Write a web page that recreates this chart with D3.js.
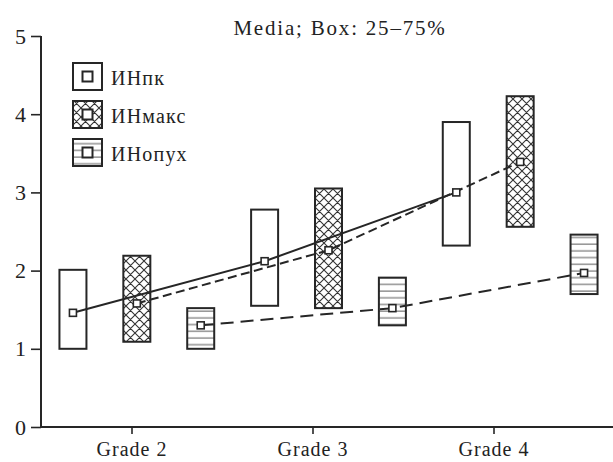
<!DOCTYPE html>
<html>
<head>
<meta charset="utf-8">
<script src="https://cdn.jsdelivr.net/npm/d3@7"></script>
<style>
  html, body { margin: 0; padding: 0; background: #fff; }
  svg { display: block; }
</style>
</head>
<body>
<svg id="chart" width="613" height="462"></svg>
<script>
// Grades shown on the x axis
const grades = ["Grade 2", "Grade 3", "Grade 4"];
const gradeTicks = [2, 3, 4];
// Series names (legend)
const series = ["ИНпк", "ИНмакс", "ИНопух"];
// Median values per series, by grade
const medianPk   = [1.46, 2.12, 3.00];
const medianMaks = [1.58, 2.26, 3.39];
const medianOpuh = [1.30, 1.52, 1.97];
// 25% quartile per series, by grade
const q25Pk   = [1.00, 1.55, 2.32];
const q25Maks = [1.09, 1.52, 2.56];
const q25Opuh = [1.00, 1.30, 1.70];
// 75% quartile per series, by grade
const q75Pk   = [2.01, 2.78, 3.90];
const q75Maks = [2.19, 3.05, 4.23];
const q75Opuh = [1.52, 1.91, 2.46];
const yTicks = [0, 1, 2, 3, 4, 5];
const title = "Media; Box: 25–75%";

const medians = [medianPk, medianMaks, medianOpuh];
const q25s = [q25Pk, q25Maks, q25Opuh];
const q75s = [q75Pk, q75Maks, q75Opuh];

const FONT = "'Liberation Serif', 'DejaVu Serif', 'Liberation Sans', sans-serif";

const svg = d3.select("#chart");
const plotLeft = 41, plotRight = 616, plotTop = 36, plotBottom = 427;

const y = d3.scaleLinear().domain([0, 5]).range([plotBottom, plotTop]);
// Axis ticks for grades
const xTick = d3.scaleLinear().domain([1.5, 1.5 + (plotRight - plotLeft) / 181]).range([plotLeft, plotRight]);
// Box slots: each grade holds three boxes side by side
const slots = d3.range(grades.length * series.length);
const xBox = d3.scalePoint().domain(slots).range([plotLeft, plotRight]).padding(0.5);
const slotOf = (g, s) => g * series.length + s;

const boxW = 27;
const ink = "#262626";

// Fill patterns
const defs = svg.append("defs");
const cross = defs.append("pattern")
  .attr("id", "cross").attr("patternUnits", "userSpaceOnUse")
  .attr("width", 9).attr("height", 9);
cross.append("rect").attr("width", 9).attr("height", 9).attr("fill", "#fff");
cross.append("path").attr("d", "M0,0L9,9M9,0L0,9M-4.5,4.5L4.5,-4.5M4.5,13.5L13.5,4.5M-4.5,4.5L4.5,13.5M4.5,-4.5L13.5,4.5")
  .attr("stroke", "#333").attr("stroke-width", 1.1);

const hor = defs.append("pattern")
  .attr("id", "hor").attr("patternUnits", "userSpaceOnUse")
  .attr("width", 10).attr("height", 6.7);
hor.append("rect").attr("width", 10).attr("height", 6.7).attr("fill", "#fff");
hor.append("line").attr("x1", 0).attr("x2", 10).attr("y1", 3).attr("y2", 3)
  .attr("stroke", "#777").attr("stroke-width", 1.2);

const fills = ["#fff", "url(#cross)", "url(#hor)"];
const dashes = [null, "9,4.5", "13,7"];

// Axes
const yAxis = d3.axisLeft(y).tickValues(yTicks).tickSize(10).tickPadding(5).tickFormat(d3.format("d"));
const gy = svg.append("g").attr("transform", `translate(${plotLeft},0)`).call(yAxis)
  .attr("font-family", null).style("font-family", FONT);
gy.select(".domain").attr("d", `M0,${plotTop}V${plotBottom}`).attr("stroke", ink).attr("stroke-width", 2);
gy.selectAll(".tick line").attr("stroke", ink).attr("stroke-width", 1.6);
gy.selectAll(".tick text").attr("font-size", 22).attr("fill", "#222");

const xAxis = d3.axisBottom(xTick).tickValues(gradeTicks).tickSize(7).tickPadding(8)
  .tickFormat((d, i) => grades[i]);
const gx = svg.append("g").attr("transform", `translate(0,${plotBottom})`).call(xAxis)
  .attr("font-family", null).style("font-family", FONT);
gx.select(".domain").attr("d", `M${plotLeft},0H${plotRight}`).attr("stroke", ink).attr("stroke-width", 2);
gx.selectAll(".tick line").attr("stroke", ink).attr("stroke-width", 1.6);
gx.selectAll(".tick text").attr("font-size", 20).attr("letter-spacing", 1).attr("fill", "#222");

// Boxes
series.forEach((name, s) => {
  grades.forEach((g, gi) => {
    const cx = xBox(slotOf(gi, s));
    svg.append("rect")
      .attr("x", cx - boxW / 2).attr("width", boxW)
      .attr("y", y(q75s[s][gi])).attr("height", y(q25s[s][gi]) - y(q75s[s][gi]))
      .attr("fill", fills[s]).attr("stroke", ink).attr("stroke-width", 2);
  });
});

// Median lines
const line = d3.line().x(d => d[0]).y(d => d[1]);
series.forEach((name, s) => {
  const pts = grades.map((g, gi) => [xBox(slotOf(gi, s)), y(medians[s][gi])]);
  svg.append("path").attr("d", line(pts)).attr("fill", "none")
    .attr("stroke", ink).attr("stroke-width", 2)
    .attr("stroke-dasharray", dashes[s]);
});

// Median markers
series.forEach((name, s) => {
  grades.forEach((g, gi) => {
    const cx = xBox(slotOf(gi, s)), cy = y(medians[s][gi]);
    svg.append("rect").attr("x", cx - 3.5).attr("y", cy - 3.5).attr("width", 7).attr("height", 7)
      .attr("fill", "#fff").attr("stroke", ink).attr("stroke-width", 1.6);
  });
});

// Title
svg.append("text").attr("x", 340).attr("y", 35).attr("text-anchor", "middle")
  .style("font-family", FONT).attr("fill", "#222")
  .attr("font-size", 21).attr("letter-spacing", 1.8).text(title);

// Legend
const leg = svg.append("g").style("font-family", FONT);
series.forEach((name, s) => {
  const ly = 63 + s * 38;
  leg.append("rect").attr("x", 73).attr("y", ly).attr("width", 29).attr("height", 27)
    .attr("fill", fills[s]).attr("stroke", ink).attr("stroke-width", 2);
  leg.append("rect").attr("x", 82.5).attr("y", ly + 8.5).attr("width", 10).attr("height", 10)
    .attr("fill", "#fff").attr("stroke", ink).attr("stroke-width", 2);
  leg.append("text").attr("x", 111).attr("y", ly + 22).attr("font-size", 20)
    .attr("letter-spacing", 1.2).attr("fill", "#222").text(name);
});
</script>
</body>
</html>
